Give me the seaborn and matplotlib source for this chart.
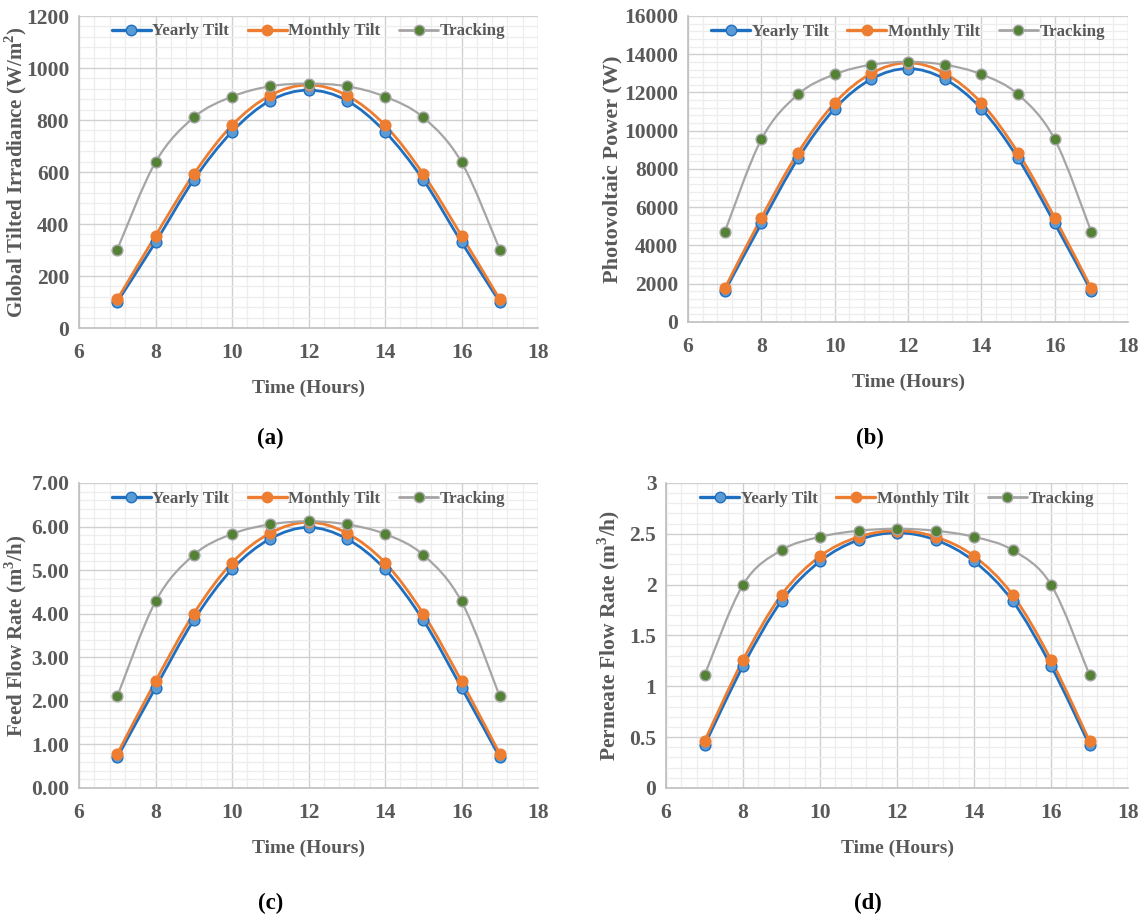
import numpy as np
import pandas as pd
import matplotlib
matplotlib.use("Agg")
import matplotlib.pyplot as plt
import seaborn as sns
from matplotlib.path import Path
from matplotlib.patches import PathPatch
from matplotlib.lines import Line2D
from matplotlib.ticker import MultipleLocator, FormatStrFormatter

hours = [7, 8, 9, 10, 11, 12, 13, 14, 15, 16, 17]
series_names = ["Yearly Tilt", "Monthly Tilt", "Tracking"]

irr_yearly = [100, 330, 570, 755, 875, 915, 875, 755, 570, 330, 100]
irr_monthly = [110, 355, 592, 780, 895, 935, 895, 780, 592, 355, 110]
irr_tracking = [302, 638, 810, 890, 930, 940, 930, 890, 810, 638, 302]

pv_yearly = [1600, 5150, 8550, 11150, 12700, 13250, 12700, 11150, 8550, 5150, 1600]
pv_monthly = [1750, 5450, 8850, 11450, 13000, 13550, 13000, 11450, 8850, 5450, 1750]
pv_tracking = [4700, 9550, 11900, 12950, 13450, 13600, 13450, 12950, 11900, 9550, 4700]

feed_yearly = [0.70, 2.30, 3.85, 5.02, 5.72, 5.98, 5.72, 5.02, 3.85, 2.30, 0.70]
feed_monthly = [0.78, 2.45, 4.00, 5.17, 5.85, 6.10, 5.85, 5.17, 4.00, 2.45, 0.78]
feed_tracking = [2.10, 4.28, 5.35, 5.83, 6.05, 6.12, 6.05, 5.83, 5.35, 4.28, 2.10]

perm_yearly = [0.42, 1.20, 1.84, 2.23, 2.44, 2.51, 2.44, 2.23, 1.84, 1.20, 0.42]
perm_monthly = [0.46, 1.26, 1.90, 2.28, 2.47, 2.53, 2.47, 2.28, 1.90, 1.26, 0.46]
perm_tracking = [1.11, 2.00, 2.34, 2.47, 2.53, 2.55, 2.53, 2.47, 2.34, 2.00, 1.11]

x_ticks = [6, 8, 10, 12, 14, 16, 18]
panel_labels = ["(a)", "(b)", "(c)", "(d)"]
y_labels = ["Global Tilted Irradiance (W/m$^{\\mathbf{2}}$)", "Photovoltaic Power (W)",
            "Feed Flow Rate (m$^{\\mathbf{3}}$/h)", "Permeate Flow Rate (m$^{\\mathbf{3}}$/h)"]

sns.set_style("white")
plt.rcParams["font.family"] = ["Liberation Serif", "DejaVu Serif"]
plt.rcParams["font.weight"] = "bold"
plt.rcParams["mathtext.fontset"] = "custom"
plt.rcParams["mathtext.rm"] = "Liberation Serif:bold"
plt.rcParams["mathtext.bf"] = "Liberation Serif:bold"

TXT = "#595959"
line_colors = ["#1F6FC0", "#ED7D31", "#A5A5A5"]
face_colors = ["#5B9BD5", "#ED7D31", "#548235"]
edge_colors = ["#1F6FC0", "#ED7D31", "#A5A5A5"]
line_widths = [2.0, 2.0, 1.6]

fig = plt.figure(figsize=(11.45, 9.17), dpi=100)

panels = [
    dict(rect=[0.069, 0.6423, 0.4009, 0.3402], data=[irr_yearly, irr_monthly, irr_tracking],
         ymax=1200, ystep=200, fmt="%d", lab=(0.236, 0.505), ylx=-0.108, yls=15),
    dict(rect=[0.6009, 0.6489, 0.3843, 0.3337], data=[pv_yearly, pv_monthly, pv_tracking],
         ymax=16000, ystep=2000, fmt="%d", lab=(0.760, 0.505), ylx=-0.150, yls=16),
    dict(rect=[0.069, 0.1407, 0.4009, 0.3326], data=[feed_yearly, feed_monthly, feed_tracking],
         ymax=7, ystep=1, fmt="%.2f", lab=(0.236, -0.002), ylx=-0.110, yls=15),
    dict(rect=[0.5817, 0.1407, 0.4035, 0.3326], data=[perm_yearly, perm_monthly, perm_tracking],
         ymax=3, ystep=0.5, fmt="general", lab=(0.758, -0.002), ylx=-0.095, yls=15.5),
]


def smooth_path(xs, ys):
    pts = np.column_stack([xs, ys]).astype(float)
    n = len(pts)
    verts = [pts[0]]
    codes = [Path.MOVETO]
    for i in range(n - 1):
        p0 = pts[i - 1] if i > 0 else pts[i]
        p1 = pts[i]
        p2 = pts[i + 1]
        p3 = pts[i + 2] if i + 2 < n else pts[i + 1]
        c1 = p1 + (p2 - p0) / 6.0
        c2 = p2 - (p3 - p1) / 6.0
        verts += [c1, c2, p2]
        codes += [Path.CURVE4] * 3
    return Path(verts, codes)


for k, p in enumerate(panels):
    ax = fig.add_axes(p["rect"])
    rows = []
    for name, vals in zip(series_names, p["data"]):
        for h, v in zip(hours, vals):
            rows.append({"Hour": h, "Value": v, "Series": name})
    df = pd.DataFrame(rows)
    ax.set_xlim(6, 18)
    ax.set_ylim(0, p["ymax"])
    for j, name in enumerate(series_names):
        sub = df[df["Series"] == name]
        patch = PathPatch(smooth_path(sub["Hour"].values, sub["Value"].values),
                          facecolor="none", edgecolor=line_colors[j], lw=line_widths[j],
                          zorder=3 + j * 0.1, transform=ax.transData)
        ax.add_patch(patch)
    for j, name in enumerate(series_names):
        sub = df[df["Series"] == name]
        sns.scatterplot(data=sub, x="Hour", y="Value", ax=ax, s=60, color=face_colors[j],
                        edgecolor=edge_colors[j], linewidth=1.0, zorder=4 + j * 0.1, legend=False)
    ax.set_xlim(6, 18)
    ax.set_ylim(0, p["ymax"])
    ax.xaxis.set_major_locator(MultipleLocator(2))
    ax.xaxis.set_minor_locator(MultipleLocator(0.4))
    ax.yaxis.set_major_locator(MultipleLocator(p["ystep"]))
    ax.yaxis.set_minor_locator(MultipleLocator(p["ystep"] / 5))
    if p["fmt"] == "general":
        ax.yaxis.set_major_formatter(plt.FuncFormatter(lambda v, pos: ("%g" % v)))
    else:
        ax.yaxis.set_major_formatter(FormatStrFormatter(p["fmt"]))
    ax.grid(which="major", color="#D0D0D0", lw=1.0, zorder=0)
    ax.grid(which="minor", color="#EDEDED", lw=0.9, zorder=0)
    ax.set_axisbelow(True)
    for s in ["top", "right"]:
        ax.spines[s].set_visible(False)
    for s in ["left", "bottom"]:
        ax.spines[s].set_color("#BFBFBF")
        ax.spines[s].set_linewidth(1.2)
    ax.tick_params(axis="both", which="major", direction="out", length=5, width=1.0,
                   color="#BFBFBF", labelsize=15.5, labelcolor=TXT, pad=2)
    ax.tick_params(axis="x", which="major", pad=6)
    ax.tick_params(axis="both", which="minor", length=0)
    ax.set_xticks(x_ticks)
    for t in ax.get_xticklabels() + ax.get_yticklabels():
        t.set_fontweight("bold")
    ax.set_xlabel("Time (Hours)", fontsize=14, color=TXT, fontweight="bold", labelpad=12)
    ax.set_ylabel(y_labels[k], fontsize=p["yls"], color=TXT, fontweight="bold")
    ax.yaxis.set_label_coords(p["ylx"], 0.5)
    handles = [Line2D([0], [0], color=line_colors[j], lw=line_widths[j] + 0.4, marker="o",
                      markersize=7.5, markerfacecolor=face_colors[j],
                      markeredgecolor=edge_colors[j]) for j in range(3)]
    leg = ax.legend(handles, series_names, loc="upper center", bbox_to_anchor=(0.5, 1.025),
                    ncol=3, frameon=False, handlelength=2.3, handletextpad=0.1,
                    columnspacing=1.1, prop={"family": "Liberation Serif", "weight": "bold", "size": 12.2})
    for t in leg.get_texts():
        t.set_color(TXT)
    fig.text(p["lab"][0], p["lab"][1] + 0.005, panel_labels[k], fontsize=16.5, color="black",
             fontweight="bold", ha="center", va="bottom")

fig.savefig("out.png", dpi=100, facecolor="white")
